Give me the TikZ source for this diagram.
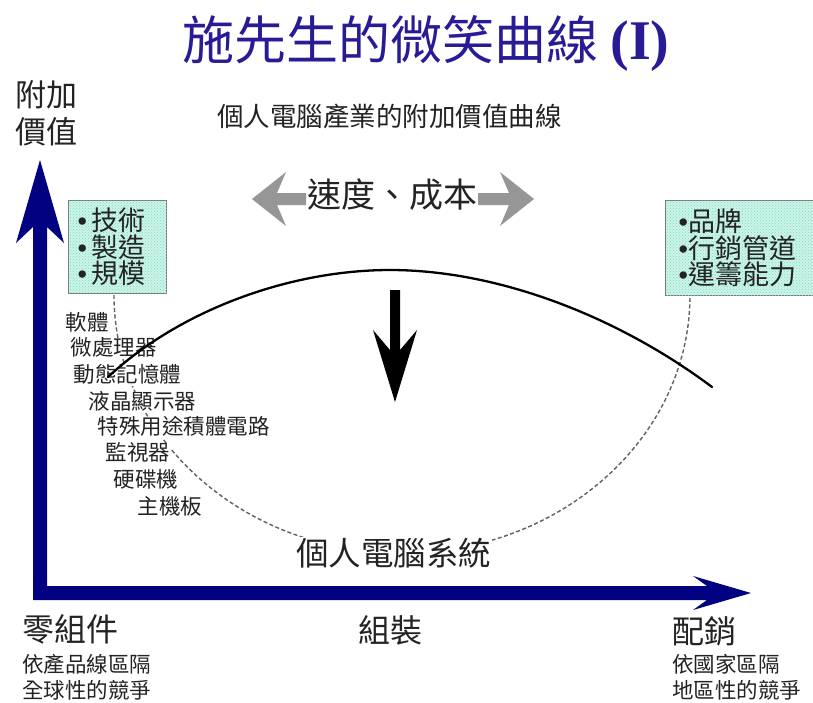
\documentclass[tikz,border=0pt]{standalone}
\usepackage{fontspec}
\newfontfamily\cjk{Noto Sans CJK TC}
\newfontfamily\titleserif{Liberation Serif}
\newfontfamily\latinsans{Liberation Sans}
\usetikzlibrary{patterns}
\definecolor{navy}{RGB}{0,0,128}
\definecolor{titleblue}{RGB}{40,28,150}
\definecolor{arrowgray}{RGB}{150,150,150}
\definecolor{boxfill}{RGB}{205,243,232}
\definecolor{boxdot}{RGB}{120,222,198}
\definecolor{boxline}{RGB}{120,120,120}
\definecolor{txt}{RGB}{35,35,35}
\newcommand{\bul}{{\latinsans •}}
\begin{document}
\begin{tikzpicture}[x=1pt,y=-1pt,
  big/.style={font=\cjk\fontsize{32}{32}\selectfont, text=txt, inner sep=0pt},
  mid/.style={font=\cjk\fontsize{26.5}{26.5}\selectfont, text=txt, inner sep=0pt},
  small/.style={font=\cjk\fontsize{21.5}{21.5}\selectfont, text=txt, inner sep=0pt, anchor=west},
  part/.style={font=\cjk\fontsize{21.5}{21.5}\selectfont, text=txt, fill=white, inner sep=0.5pt, anchor=west, text height=17pt, text depth=3pt},
  infobox/.style={draw=boxline, line width=1.3pt, fill=boxfill,
    postaction={pattern=crosshatch dots, pattern color=boxdot},
    anchor=north west, align=left, text=txt, inner xsep=6pt,
    font=\cjk\fontsize{27}{26.5}\selectfont},
  dashline/.style={draw=black!62, line width=1.4pt, dash pattern=on 4pt off 2.5pt},
]
\fill[white] (0,0) rectangle (813,702);
\useasboundingbox (0,0) rectangle (813,702);

% title
\node[text=titleblue, inner sep=0pt] (title) at (426,43)
  {{\cjk\fontsize{52}{52}\selectfont 施先生的微笑曲線}\hspace{12pt}{\titleserif\bfseries\fontsize{56}{56}\selectfont (I)}};

% y-axis label
\node[big, anchor=west, font=\cjk\fontsize{31}{31}\selectfont] (ylab1) at (15,95) {附加};
\node[big, anchor=west, font=\cjk\fontsize{31}{31}\selectfont] (ylab2) at (15,132) {價值};

% subtitle
\node[mid, anchor=west] (sub) at (217,116) {個人電腦產業的附加價值曲線};

% speed / cost with gray double arrow
\node[font=\cjk\fontsize{34}{34}\selectfont, text=txt, inner sep=0pt] (speed) at (392,195) {速度、成本};
\fill[arrowgray] (252,199) -- (286,172) -- (277,193) -- (306,193) -- (306,205) -- (277,205) -- (286,226) -- cycle;
\fill[arrowgray] (534,199) -- (500,172) -- (509,193) -- (478,193) -- (478,205) -- (509,205) -- (500,226) -- cycle;

% dashed U curve (PC system)
\draw[dashline] (114,295) arc[start angle=180, end angle=360, x radius=288pt, y radius=258pt];

% boxes
\node[infobox, minimum width=92pt, minimum height=93pt, text width=80pt, inner xsep=9pt] (lbox) at (68,200)
  {\bul\,技術\\\bul\,製造\\\bul\,規模};
\node[infobox, minimum width=135pt, minimum height=95pt, text width=123pt, inner xsep=13pt] (rbox) at (665,200)
  {\bul 品牌\\\bul 行銷管道\\\bul 運籌能力};

% component list
\node[part] (p1) at (65,323) {軟體};
\node[part] (p2) at (70,348) {微處理器};
\node[part] (p3) at (73,375) {動態記憶體};
\node[part] (p4) at (88,402) {液晶顯示器};
\node[part] (p5) at (97,427) {特殊用途積體電路};
\node[part] (p6) at (105,453) {監視器};
\node[part] (p7) at (113,480) {硬碟機};
\node[part] (p8) at (137,507) {主機板};

% PC system label
\node[big, anchor=west, fill=white, inner sep=1pt, font=\cjk\fontsize{32.5}{32.5}\selectfont] (pcsys) at (295,553) {個人電腦系統};

% smile curve (solid)
\draw[line width=2.3pt, line cap=round] (108,377) .. controls (180,310) and (290,270) .. (390,270)
  .. controls (500,270) and (620,318) .. (712,387);

% down arrow
\fill[black] (390,290) -- (400,290) -- (400,350) -- (417,330) -- (395,402) -- (373,330) -- (390,350) -- cycle;

% axes
\fill[navy] (40,160) -- (64,243) -- (47,227) -- (47,586) -- (707,586) -- (693,576) -- (751,593)
  -- (693,610) -- (707,600) -- (33,600) -- (33,227) -- (16,243) -- cycle;

% bottom labels
\node[big, anchor=west] (comp) at (22,629) {零組件};
\node[small] (comp1) at (22,664) {依產品線區隔};
\node[small] (comp2) at (22,690) {全球性的競爭};
\node[big] (assem) at (390,630) {組裝};
\node[big, anchor=west] (dist) at (672,631) {配銷};
\node[small] (dist1) at (672,664) {依國家區隔};
\node[small] (dist2) at (672,690) {地區性的競爭};
\end{tikzpicture}
\end{document}
